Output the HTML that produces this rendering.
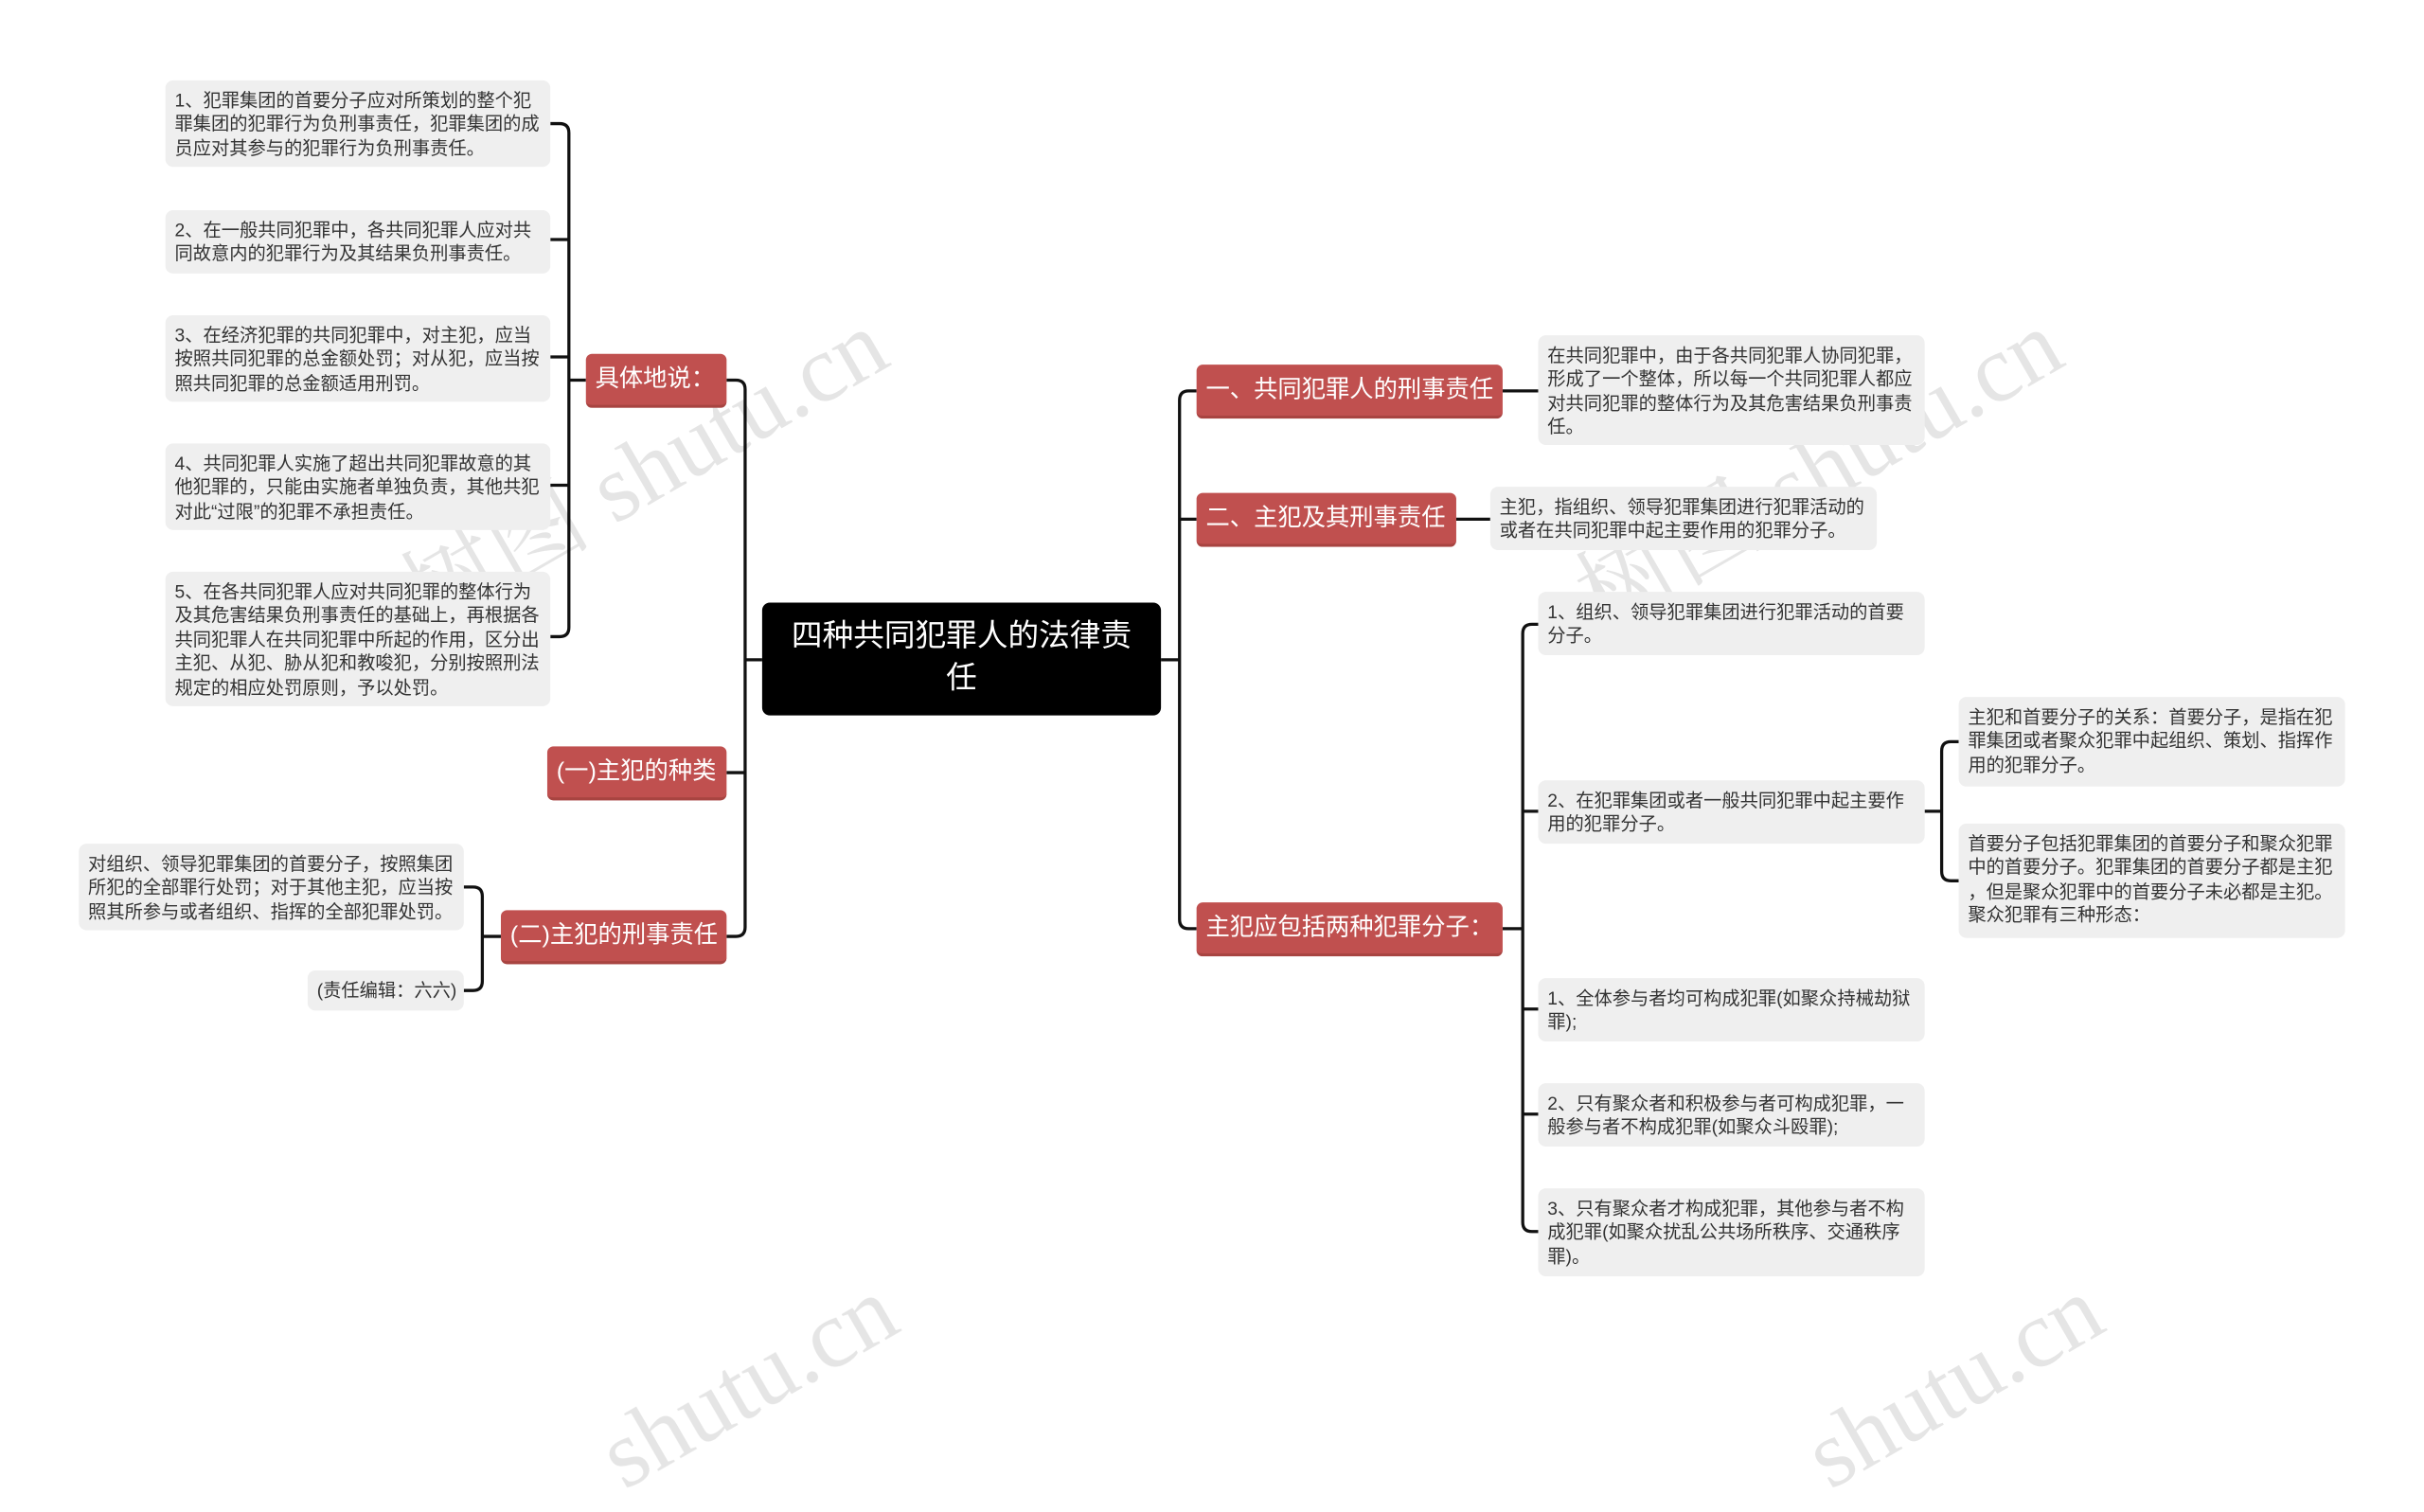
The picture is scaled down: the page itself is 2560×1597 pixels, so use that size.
<!DOCTYPE html>
<html><head><meta charset="utf-8">
<style>
html,body{margin:0;padding:0;background:#fff;width:2560px;height:1433px;overflow:hidden}
#s{position:absolute;left:0;top:0;width:1568px;height:878px;transform:scale(1.63265,1.63212);transform-origin:0 0;font-family:"Liberation Sans","Noto Sans CJK SC",sans-serif}
.b{position:absolute;box-sizing:border-box}
.leaf{background:#efefef;border-radius:5px;color:#333;font-size:11.8px;line-height:15.4px;padding:6px 5px 6px 6px;white-space:nowrap;overflow:hidden}
.red{background:#c0504f;border-radius:4px;color:#fff;font-size:15.5px;line-height:34px;padding:0 6px;white-space:nowrap;border-bottom:2px solid #a84441}
.ctr{background:#000;border-radius:5px;color:#fff;font-size:20px;line-height:27px;text-align:center;padding-top:9px}
.wm{position:absolute;color:rgba(0,0,0,0.10);font-size:62px;font-family:"Liberation Serif","Noto Serif CJK SC",serif;transform:rotate(-30deg);white-space:nowrap}
svg{position:absolute;left:0;top:0}
</style></head><body>
<div id="s">
<svg width="1568" height="878" fill="none" stroke="#111" stroke-width="2">
<path d="M493 427 H482"/>
<path d="M470 246 H476 Q482 246 482 252 V600 Q482 606 476 606 H470"/>
<path d="M470 500 H482"/>
<path d="M379 246 H368"/>
<path d="M356 80 H362 Q368 80 368 86 V406 Q368 412 362 412 H356"/>
<path d="M356 155 H368 M356 231 H368 M356 314 H368"/>
<path d="M324 606 H312"/>
<path d="M300 574 H306 Q312 574 312 580 V635 Q312 641 306 641 H300"/>
<path d="M751 427 H763"/>
<path d="M774 253 H769 Q763 253 763 259 V595 Q763 601 769 601 H774"/>
<path d="M763 336 H774"/>
<path d="M972 253 H995"/>
<path d="M942 336 H964"/>
<path d="M972 601 H985"/>
<path d="M995 404 H991 Q985 404 985 410 V791 Q985 797 991 797 H995"/>
<path d="M985 525 H995 M985 653 H995 M985 721 H995"/>
<path d="M1245 525 H1256"/>
<path d="M1267 480 H1262 Q1256 480 1256 486 V564 Q1256 570 1262 570 H1267"/>
</svg>

<div class="wm" style="left:240px;top:255px">树图 shutu.cn</div>
<div class="wm" style="left:1000px;top:255px">树图 shutu.cn</div>
<div class="wm" style="left:380px;top:860px">shutu.cn</div>
<div class="wm" style="left:1160px;top:860px">shutu.cn</div>

<div class="b ctr" style="left:493px;top:390px;width:258px;height:73px">四种共同犯罪人的法律责<br>任</div>

<div class="b red" style="left:379px;top:229px;width:91px;height:35px">具体地说：</div>
<div class="b red" style="left:354px;top:483px;width:116px;height:35px">(一)主犯的种类</div>
<div class="b red" style="left:324px;top:589px;width:146px;height:35px">(二)主犯的刑事责任</div>

<div class="b leaf" style="left:107px;top:52px;width:249px;height:56px">1、犯罪集团的首要分子应对所策划的整个犯<br>罪集团的犯罪行为负刑事责任，犯罪集团的成<br>员应对其参与的犯罪行为负刑事责任。</div>
<div class="b leaf" style="left:107px;top:136px;width:249px;height:41px">2、在一般共同犯罪中，各共同犯罪人应对共<br>同故意内的犯罪行为及其结果负刑事责任。</div>
<div class="b leaf" style="left:107px;top:204px;width:249px;height:56px">3、在经济犯罪的共同犯罪中，对主犯，应当<br>按照共同犯罪的总金额处罚；对从犯，应当按<br>照共同犯罪的总金额适用刑罚。</div>
<div class="b leaf" style="left:107px;top:287px;width:249px;height:56px">4、共同犯罪人实施了超出共同犯罪故意的其<br>他犯罪的，只能由实施者单独负责，其他共犯<br>对此“过限”的犯罪不承担责任。</div>
<div class="b leaf" style="left:107px;top:370px;width:249px;height:87px">5、在各共同犯罪人应对共同犯罪的整体行为<br>及其危害结果负刑事责任的基础上，再根据各<br>共同犯罪人在共同犯罪中所起的作用，区分出<br>主犯、从犯、胁从犯和教唆犯，分别按照刑法<br>规定的相应处罚原则，予以处罚。</div>

<div class="b leaf" style="left:51px;top:546px;width:249px;height:56px">对组织、领导犯罪集团的首要分子，按照集团<br>所犯的全部罪行处罚；对于其他主犯，应当按<br>照其所参与或者组织、指挥的全部犯罪处罚。</div>
<div class="b leaf" style="left:199px;top:628px;width:101px;height:26px">(责任编辑：六六)</div>

<div class="b red" style="left:774px;top:236px;width:198px;height:35px">一、共同犯罪人的刑事责任</div>
<div class="b red" style="left:774px;top:319px;width:168px;height:35px">二、主犯及其刑事责任</div>
<div class="b red" style="left:774px;top:584px;width:198px;height:35px">主犯应包括两种犯罪分子：</div>

<div class="b leaf" style="left:995px;top:217px;width:250px;height:71px">在共同犯罪中，由于各共同犯罪人协同犯罪，<br>形成了一个整体，所以每一个共同犯罪人都应<br>对共同犯罪的整体行为及其危害结果负刑事责<br>任。</div>
<div class="b leaf" style="left:964px;top:315px;width:250px;height:41px">主犯，指组织、领导犯罪集团进行犯罪活动的<br>或者在共同犯罪中起主要作用的犯罪分子。</div>
<div class="b leaf" style="left:995px;top:383px;width:250px;height:41px">1、组织、领导犯罪集团进行犯罪活动的首要<br>分子。</div>
<div class="b leaf" style="left:995px;top:505px;width:250px;height:41px">2、在犯罪集团或者一般共同犯罪中起主要作<br>用的犯罪分子。</div>
<div class="b leaf" style="left:995px;top:633px;width:250px;height:41px">1、全体参与者均可构成犯罪(如聚众持械劫狱<br>罪);</div>
<div class="b leaf" style="left:995px;top:701px;width:250px;height:41px">2、只有聚众者和积极参与者可构成犯罪，一<br>般参与者不构成犯罪(如聚众斗殴罪);</div>
<div class="b leaf" style="left:995px;top:769px;width:250px;height:57px">3、只有聚众者才构成犯罪，其他参与者不构<br>成犯罪(如聚众扰乱公共场所秩序、交通秩序<br>罪)。</div>

<div class="b leaf" style="left:1267px;top:451px;width:250px;height:58px">主犯和首要分子的关系：首要分子，是指在犯<br>罪集团或者聚众犯罪中起组织、策划、指挥作<br>用的犯罪分子。</div>
<div class="b leaf" style="left:1267px;top:533px;width:250px;height:74px">首要分子包括犯罪集团的首要分子和聚众犯罪<br>中的首要分子。犯罪集团的首要分子都是主犯<br>，但是聚众犯罪中的首要分子未必都是主犯。<br>聚众犯罪有三种形态：</div>
</div>
</body></html>
